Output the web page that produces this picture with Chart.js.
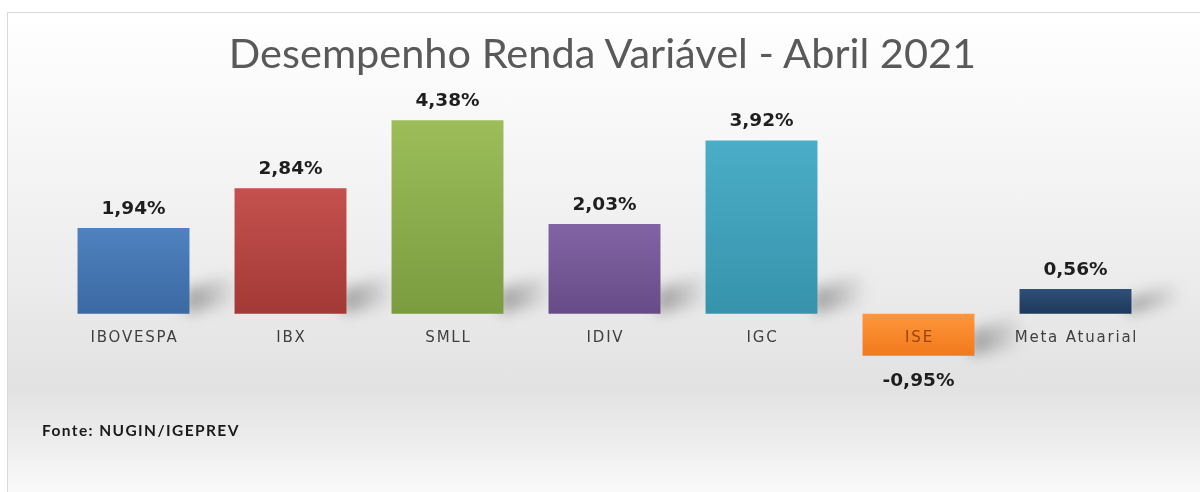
<!DOCTYPE html>
<html>
<head>
<meta charset="utf-8">
<script src="https://cdn.jsdelivr.net/npm/chart.js@4.4.0/dist/chart.umd.min.js"></script>
<style>
  html, body { margin: 0; padding: 0; background: #fff; width: 1200px; height: 492px; overflow: hidden; }
  #card {
    position: absolute; left: 7px; top: 12px; width: 1193px; height: 480px;
    box-sizing: border-box; border-top: 1px solid #d9d9d9; border-left: 1px solid #d9d9d9;
    background: linear-gradient(to bottom, #ffffff 0%, #f7f7f7 25%, #ececec 55%, #e2e2e2 78%, #ededed 90%, #fafafa 100%);
  }
  #wrap { position: absolute; left: 0; top: 0; width: 1200px; height: 492px; }
  #title {
    position: absolute; left: 0; width: 1205px; top: 28px; text-align: center;
    font-family: Lato, sans-serif; font-size: 41.5px; line-height: 1.2; color: #595959;
  }
  #source {
    position: absolute; left: 42px; top: 421px; letter-spacing: 1.4px;
    font-family: Lato, sans-serif; font-weight: bold; font-size: 15.5px; line-height: 1.2; color: #1a1a1a;
  }
</style>
</head>
<body>
<div id="card"></div>
<div id="wrap"><canvas id="chart" width="1200" height="492"></canvas></div>
<div id="title">Desempenho Renda Variável - Abril 2021</div>
<div id="source">Fonte: NUGIN/IGEPREV</div>
<script>
// dados
const categorias = ['IBOVESPA', 'IBX', 'SMLL', 'IDIV', 'IGC', 'ISE', 'Meta Atuarial'];
const retornos = [1.94, 2.84, 4.38, 2.03, 3.92, -0.95, 0.56];
const coresTopo = ['#4f82bf', '#c4514e', '#9dbd5a', '#8264a4', '#4badc7', '#ff963c', '#2f507a'];
const coresBase = ['#3b69a2', '#a33936', '#7a9c3f', '#674b88', '#3793ac', '#f07a1c', '#1e385a'];

const fmt = v => v.toFixed(2).replace('.', ',') + '%';

function gradiente(ctx) {
  const chart = ctx.chart;
  const i = ctx.dataIndex;
  const y = chart.scales.y;
  if (!y) return coresTopo[i];
  const p1 = y.getPixelForValue(retornos[i]), p0 = y.getPixelForValue(0);
  if (!Number.isFinite(p1) || !Number.isFinite(p0)) return coresTopo[i];
  const g = chart.ctx.createLinearGradient(0, Math.min(p0, p1), 0, Math.max(p0, p1));
  g.addColorStop(0, coresTopo[i]);
  g.addColorStop(1, coresBase[i]);
  return g;
}

// sombras diagonais atras das barras
const sombras = {
  id: 'sombras',
  beforeDatasetsDraw(chart) {
    const c = chart.ctx;
    const meta = chart.getDatasetMeta(0);
    c.save();
    c.filter = 'blur(7px)';
    meta.data.forEach((bar, i) => {
      const right = bar.x + bar.width / 2;
      const top = Math.min(bar.y, bar.base), bot = Math.max(bar.y, bar.base);
      const h = Math.min(bot - top, 40);
      const g = c.createLinearGradient(right, 0, right + 50, 0);
      g.addColorStop(0, 'rgba(70,70,70,0.45)');
      g.addColorStop(1, 'rgba(70,70,70,0)');
      c.fillStyle = g;
      c.beginPath();
      c.moveTo(right - 4, bot);
      c.lineTo(right - 4, bot - h * 0.6);
      c.lineTo(right + 45, bot - h * 0.6 - 16);
      c.lineTo(right + 45, bot - 10);
      c.closePath();
      c.fill();
    });
    c.restore();
  }
};

// rotulos de valor e categorias
const rotulos = {
  id: 'rotulos',
  afterDatasetsDraw(chart) {
    const c = chart.ctx;
    const meta = chart.getDatasetMeta(0);
    const y0 = chart.scales.y.getPixelForValue(0);
    c.save();
    c.textAlign = 'center';
    c.textBaseline = 'middle';
    meta.data.forEach((bar, i) => {
      const v = retornos[i];
      c.font = 'bold 18.5px "DejaVu Sans", sans-serif';
      c.fillStyle = '#1e1e1e';
      if (v >= 0) c.fillText(fmt(v), bar.x, bar.y - 19);
      else c.fillText(fmt(v), bar.x, bar.y + 25);

      c.font = '15px "DejaVu Sans", sans-serif';
      c.letterSpacing = '1.8px';
      c.fillStyle = v < 0 ? '#9a4310' : '#404040';
      c.fillText(categorias[i], bar.x + 1, y0 + 24);
      c.letterSpacing = '0px';
    });
    c.restore();
  }
};

new Chart(document.getElementById('chart'), {
  type: 'bar',
  data: {
    labels: categorias,
    datasets: [{
      data: retornos,
      backgroundColor: gradiente,
      borderWidth: 0,
      barPercentage: 0.713,
      categoryPercentage: 1
    }]
  },
  options: {
    responsive: false,
    animation: false,
    events: [],
    layout: { padding: { left: 55, right: 46, top: 115, bottom: 112 } },
    scales: {
      x: { display: false },
      y: { display: false, min: -1.5, max: 4.5 }
    },
    plugins: { legend: { display: false }, tooltip: { enabled: false }, title: { display: false } }
  },
  plugins: [sombras, rotulos]
});
</script>
</body>
</html>
